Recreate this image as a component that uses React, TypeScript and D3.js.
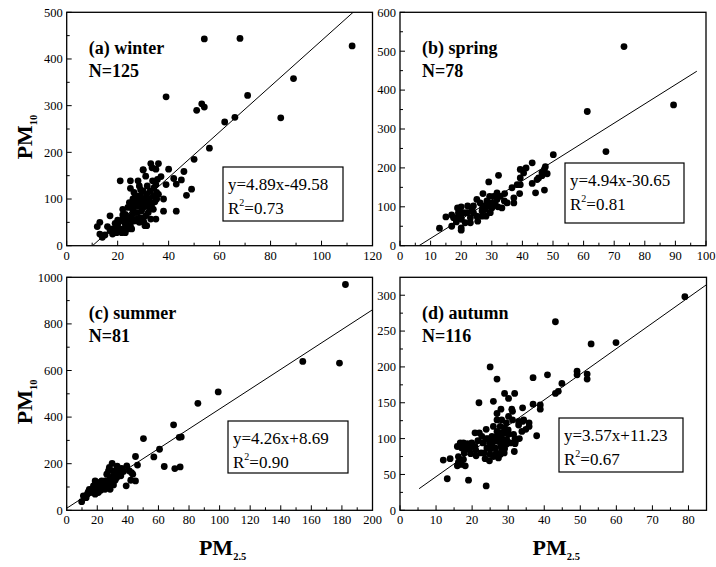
import React from 'react'
import * as d3 from 'd3'

const width = 716
const height = 567
const font = '"Liberation Serif", "Times New Roman", serif'

// PM2.5 vs PM10 pairs
const winter: [number, number][] = [
    [54, 443], [68, 444], [112, 428], [89, 358], [39, 319], [71, 322], [53, 304], [54, 297], [51, 290],
    [62, 265], [66, 275], [84, 274], [56, 209], [50, 185], [46, 159], [49, 121], [47, 108], [45, 141],
    [43, 74], [38, 74], [43, 132], [42, 144], [40, 164], [39, 131], [38, 100], [36, 176], [33, 176],
    [35, 164], [30, 163], [31, 149], [25, 139], [21, 139], [37, 148], [35, 131],
    [12, 41], [13, 50], [13, 25], [14, 18], [15, 23], [16, 41], [17, 64], [18, 36], [18, 25], [19, 48],
    [20, 37], [21, 53], [22, 78], [22, 57], [22.5, 36], [23, 67], [23.5, 50], [24, 57], [24.6, 92],
    [25, 123], [25, 43], [25.5, 64], [26, 77], [26, 53], [26.4, 114], [26.8, 96], [27, 71], [27.5, 57],
    [28, 139], [28, 85], [28.5, 103], [29, 60], [29, 92], [29.4, 75], [30, 117], [30, 162], [30, 57],
    [30.3, 100], [30.7, 43], [31, 85], [31, 64], [31.4, 110], [31.6, 128], [32, 71], [32.4, 100],
    [32.7, 117], [33, 57], [33.3, 85], [33.7, 139], [34, 107], [34.2, 124], [34.6, 94], [35, 57],
    [35.3, 114], [35.6, 142], [21, 36], [20, 46], [23, 28], [24, 36], [25.5, 36], [26.8, 53], [28.5, 50],
    [24, 82], [25.5, 89], [27, 107], [29, 107], [31, 89], [32.4, 82], [34, 78], [31.4, 43], [30.3, 50],
    [21.6, 28], [19.6, 28], [17, 32], [27.7, 71], [26, 100], [30, 82], [32, 100], [35.3, 100],
    [28.5, 128], [33.5, 167], [26, 75], [25, 61], [23, 46], [18.6, 36], [22, 66], [27, 90], [29, 120],
    [33, 92], [36, 110], [20, 55],
]

const spring: [number, number][] = [
    [73.2, 512], [89.4, 362], [61.2, 345], [67.3, 242], [50.1, 234], [43.2, 213], [47.2, 197], [48.1, 185],
    [46.4, 180], [45.3, 174], [44.8, 170], [43.2, 160], [44.3, 136], [47.2, 143], [41.2, 200], [39.3, 196],
    [39.3, 174], [38.3, 157], [39.3, 157], [39.1, 134], [37.2, 123], [37.2, 110], [34.2, 134], [32.2, 181],
    [29, 164], [34.1, 115], [32.8, 127], [31.7, 119], [30.6, 127], [29.3, 127], [30, 110], [31.1, 106],
    [32, 100], [28.4, 115], [29, 102], [27.9, 93], [27.1, 102], [26.2, 110], [27.1, 134], [26.8, 89],
    [25.1, 76], [25.1, 119], [24, 102], [24, 85], [23, 72], [22.1, 102], [21.9, 85], [20.8, 85], [20, 100],
    [20, 72], [20, 46], [20, 40], [20, 68], [19.1, 76], [19.1, 85], [18.4, 61], [17.5, 72], [16.9, 50],
    [16.9, 79], [15, 74], [12.9, 45], [26.8, 76], [25.4, 63], [23, 59], [21.3, 59], [33.3, 97], [35, 110],
    [29.5, 85], [28.1, 76], [30, 97], [31.7, 136], [40.4, 187], [47.5, 203], [46.4, 188], [36.6, 149],
    [23.5, 93], [18.8, 97], [27, 96],
]

const summer: [number, number][] = [
    [182.3, 969], [154.4, 639], [178.4, 632], [99.1, 508], [85.8, 459], [69.9, 367], [73.6, 313], [74.9, 315],
    [50.2, 308], [60.7, 262], [57, 229], [63.8, 188], [70.7, 179], [74.2, 186], [45, 231], [46.3, 194],
    [42.4, 162], [45, 126], [41.9, 129], [38.9, 105], [39.3, 191], [36, 169], [33.2, 184], [31.7, 162],
    [29.7, 201], [31.7, 129], [28.4, 141], [27.3, 169], [28.4, 119], [26.2, 155], [25.1, 126], [30.6, 109],
    [22.9, 109], [21.8, 97], [20.7, 119], [19.7, 90], [18.6, 126], [17.5, 105], [16.4, 83], [14.8, 90],
    [13.5, 69], [10.9, 62], [9.8, 37], [19.2, 80], [20.7, 76], [21.8, 119], [24, 95], [25.8, 97],
    [27.3, 105], [29.5, 133], [30.6, 148], [32.3, 155], [33.8, 162], [34.9, 158], [37.1, 166], [24.5, 118],
    [22.3, 86], [17.9, 97], [15.7, 76], [12.7, 54], [26.2, 126], [27.9, 184], [22.9, 126], [20.1, 105],
    [25.1, 90], [32.8, 141], [35.4, 148], [30.6, 169], [28.4, 90], [18.6, 69], [21.4, 109], [17, 80],
    [41, 169], [43.2, 155], [16, 88], [19, 112], [23.5, 100], [26, 112], [14, 78], [33, 190], [36, 180],
]

const autumn: [number, number][] = [
    [79, 298], [43.1, 263], [53, 232], [59.9, 234], [25, 200], [26.9, 183], [36.9, 185], [40.9, 189],
    [49.1, 194], [49.1, 189], [51.9, 190], [51.9, 183], [44.9, 177], [43.9, 166], [43.1, 163], [29, 163],
    [31.8, 163], [30.1, 156], [25.9, 152], [21.9, 150], [36.9, 148], [38.9, 147], [38.9, 141], [34, 143],
    [31, 141], [31.2, 138], [28, 141], [26.9, 135], [26.9, 126], [30.1, 131], [31.2, 126], [32.9, 124],
    [34, 124], [32.9, 119], [35.8, 122], [35.8, 117], [34.9, 113], [33.8, 110], [37.9, 104], [29, 115],
    [27.8, 117], [25.9, 117], [23.9, 113], [29, 108], [30.1, 106], [31.5, 106], [28.2, 101], [26.9, 103],
    [25.5, 103], [29.6, 99], [30.6, 94], [31.9, 100], [31.9, 93], [33.1, 100], [31.7, 82], [28.7, 94],
    [28, 89], [27.3, 96], [25.9, 96], [24.8, 94], [23.9, 100], [22.7, 103], [20.8, 108], [22, 108],
    [21.6, 97], [20.8, 89], [21.1, 76], [22.5, 80], [23.4, 80], [24.1, 87], [25, 85], [25, 78], [25.5, 91],
    [26.4, 87], [26.7, 80], [27.8, 78], [28.9, 80], [29, 86], [25.9, 75], [24.8, 69], [23.6, 72],
    [19.9, 94], [18.7, 93], [17.6, 94], [16.7, 94], [15.9, 89], [17.1, 87], [18.5, 85], [19.4, 87],
    [17.8, 80], [16.2, 75], [17.6, 71], [16.2, 67], [15.9, 62], [17.1, 64], [18.1, 62], [12, 70],
    [13.9, 72], [13.1, 44], [19, 42], [23.9, 34], [34.3, 126], [28.2, 126], [29.5, 122], [26.9, 110],
    [28.2, 108], [18.5, 89], [19.6, 79], [23, 94], [28.2, 85], [29.5, 92], [27.3, 73], [24.5, 100],
    [30, 112], [32, 96], [21, 84],
]

const seriesList = [winter, spring, summer, autumn]
const titles = ['(a) winter', '(b) spring', '(c) summer', '(d) autumn']
const counts = [125, 78, 81, 116]
const slopes = [4.89, 4.94, 4.26, 3.57]
const intercepts = [-49.58, -30.65, 8.69, 11.23]
const rSquared = ['0.73', '0.81', '0.90', '0.67']
const fitRanges = [[10.14, 115], [6.2, 97], [0, 200], [5.3, 85]]
const xDomains = [[0, 120], [0, 100], [0, 200], [0, 85]]
const yDomains = [[0, 500], [0, 600], [0, 1000], [0, 325]]
const xSteps = [20, 10, 20, 10]
const ySteps = [100, 100, 200, 50]

// layout of each panel on the page
const frames = [
    { x0: 66.7, x1: 372.5, y0: 12.3, y1: 245.7 },
    { x0: 400, x1: 706, y0: 12.3, y1: 245.7 },
    { x0: 66.7, x1: 372.5, y0: 277.3, y1: 510.3 },
    { x0: 400, x1: 706.5, y0: 277.3, y1: 510.3 },
]
const boxes = [
    { x: 223, y: 167, w: 120, h: 54 },
    { x: 565, y: 163, w: 119, h: 60 },
    { x: 228, y: 421, w: 120, h: 52 },
    { x: 559, y: 418, w: 124, h: 54 },
]

const fmt = (v: number) => v.toFixed(2)

const ticksFor = (max: number, step: number) => {
    const major = d3.range(0, max + 1e-6, step)
    const minor = d3.range(step / 2, max - 1e-6, step).filter((v) => !major.includes(v))
    return { major, minor }
}

const Panel = ({ i }: { i: number }) => {
    const f = frames[i]
    const x = d3.scaleLinear().domain(xDomains[i]).range([f.x0, f.x1])
    const y = d3.scaleLinear().domain(yDomains[i]).range([f.y1, f.y0])
    const xt = ticksFor(xDomains[i][1], xSteps[i])
    const yt = ticksFor(yDomains[i][1], ySteps[i])
    const fit = d3
        .line<number>()
        .x((d) => x(d))
        .y((d) => y(slopes[i] * d + intercepts[i]))
    const b = boxes[i]
    const eq = `y=${fmt(slopes[i])}x${intercepts[i] < 0 ? '-' : '+'}${fmt(Math.abs(intercepts[i]))}`

    return (
        <g>
            <clipPath id={`clip${i}`}>
                <rect x={f.x0} y={f.y0} width={f.x1 - f.x0} height={f.y1 - f.y0} />
            </clipPath>
            {/* ticks, pointing inward */}
            {xt.major.map((v) => (
                <line key={'xM' + v} x1={x(v)} x2={x(v)} y1={f.y1} y2={f.y1 - 5} stroke="#000" />
            ))}
            {xt.minor.map((v) => (
                <line key={'xm' + v} x1={x(v)} x2={x(v)} y1={f.y1} y2={f.y1 - 3} stroke="#000" />
            ))}
            {yt.major.map((v) => (
                <line key={'yM' + v} x1={f.x0} x2={f.x0 + 5} y1={y(v)} y2={y(v)} stroke="#000" />
            ))}
            {yt.minor.map((v) => (
                <line key={'ym' + v} x1={f.x0} x2={f.x0 + 3} y1={y(v)} y2={y(v)} stroke="#000" />
            ))}
            {xt.major.map((v) => (
                <text key={'xl' + v} x={x(v)} y={f.y1 + 14} textAnchor="middle" fontSize={12.5}>
                    {v}
                </text>
            ))}
            {yt.major.map((v) => (
                <text key={'yl' + v} x={f.x0 - 4} y={y(v)} dy="0.35em" textAnchor="end" fontSize={12.5}>
                    {v}
                </text>
            ))}
            <path
                d={fit(fitRanges[i]) || ''}
                fill="none"
                stroke="#000"
                strokeWidth={1}
                clipPath={`url(#clip${i})`}
            />
            {seriesList[i].map((d, k) => (
                <circle key={k} cx={x(d[0])} cy={y(d[1])} r={3.4} fill="#000" />
            ))}
            <rect
                x={f.x0}
                y={f.y0}
                width={f.x1 - f.x0}
                height={f.y1 - f.y0}
                fill="none"
                stroke="#000"
                strokeWidth={1.3}
            />
            <text x={f.x0 + 22} y={f.y0 + 42} fontSize={18} fontWeight="bold">
                {titles[i]}
            </text>
            <text x={f.x0 + 22} y={f.y0 + 65} fontSize={18} fontWeight="bold">
                N={counts[i]}
            </text>
            <rect x={b.x} y={b.y} width={b.w} height={b.h} fill="#fff" stroke="#000" strokeWidth={1.2} />
            <text x={b.x + 5} y={b.y + 23} fontSize={17}>
                {eq}
            </text>
            <text x={b.x + 5} y={b.y + 47} fontSize={17}>
                R<tspan fontSize={10} dy={-8}>2</tspan>
                <tspan dy={8}>={rSquared[i]}</tspan>
            </text>
            {i % 2 === 0 && (
                <text
                    transform={`translate(32,${(f.y0 + f.y1) / 2 + 8}) rotate(-90)`}
                    textAnchor="middle"
                    fontSize={22}
                    fontWeight="bold"
                >
                    PM<tspan fontSize={10.5} dy={5}>10</tspan>
                </text>
            )}
            {i >= 2 && (
                <text
                    x={(f.x0 + f.x1) / 2 + 3}
                    y={555}
                    textAnchor="middle"
                    fontSize={22}
                    fontWeight="bold"
                >
                    PM<tspan fontSize={10.5} dy={5}>2.5</tspan>
                </text>
            )}
        </g>
    )
}

export default function App() {
    return (
        <svg
            width={width}
            height={height}
            style={{ position: 'absolute', left: 0, top: 0, background: '#fff' }}
            fontFamily={font}
        >
            {frames.map((_, i) => (
                <Panel key={i} i={i} />
            ))}
        </svg>
    )
}
